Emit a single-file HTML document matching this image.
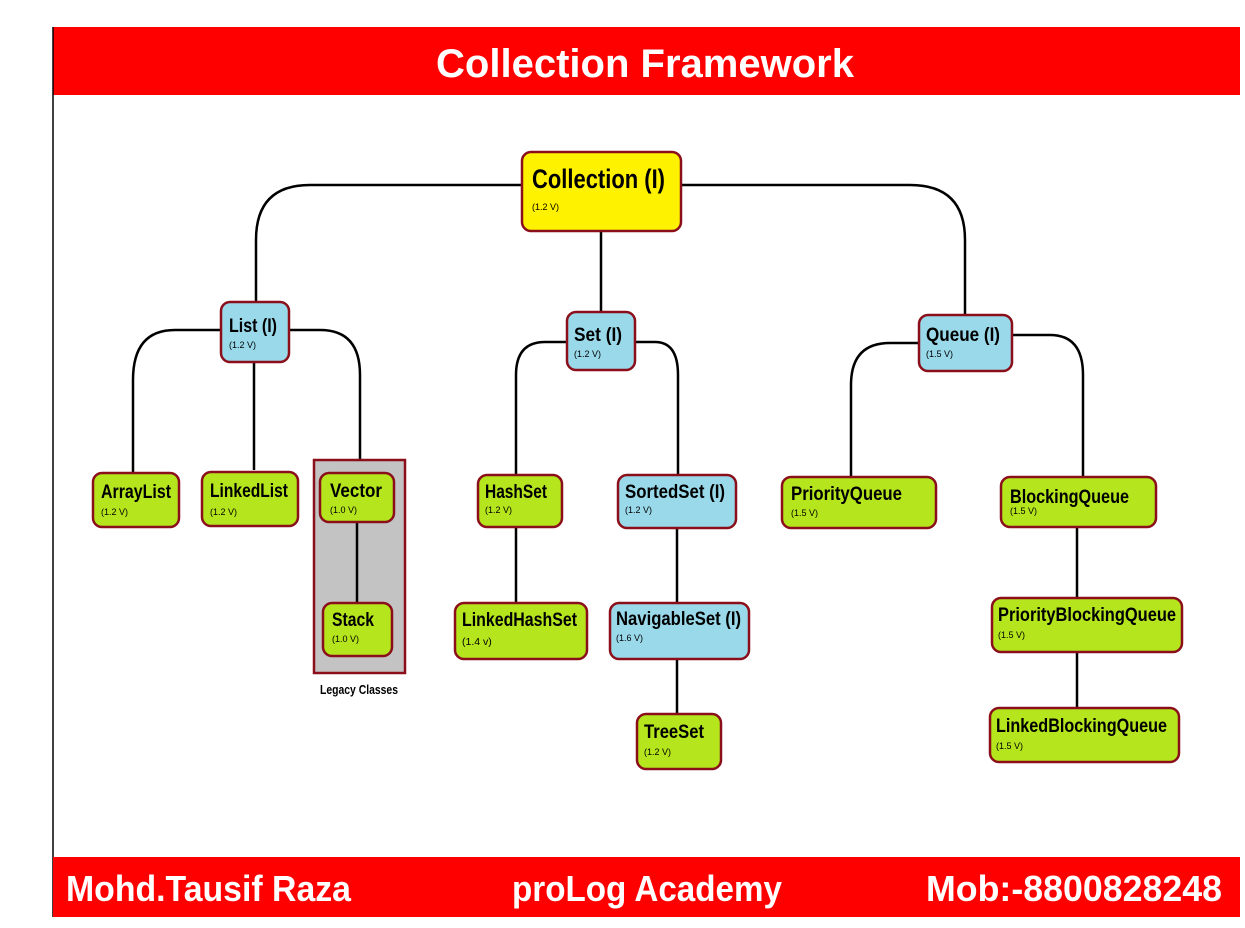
<!DOCTYPE html>
<html><head><meta charset="utf-8"><style>
html,body{margin:0;padding:0;background:#fff;width:1245px;height:928px;overflow:hidden}
svg{display:block}
text{font-family:"Liberation Sans",sans-serif}
</style></head><body>
<svg width="1245" height="928" viewBox="0 0 1245 928" xmlns="http://www.w3.org/2000/svg">
<rect x="53" y="27" width="1187" height="68" fill="#ff0000"/>
<line x1="53" y1="27" x2="53" y2="917" stroke="#000" stroke-width="1.5"/>
<text x="645" y="77" text-anchor="middle" fill="#fff" font-weight="bold" font-size="40" textLength="418" lengthAdjust="spacingAndGlyphs">Collection Framework</text>
<rect x="53" y="857" width="1187" height="60" fill="#ff0000"/>
<text x="66" y="901" fill="#fff" font-weight="bold" font-size="36" textLength="285" lengthAdjust="spacingAndGlyphs">Mohd.Tausif Raza</text>
<text x="512" y="901" fill="#fff" font-weight="bold" font-size="36" textLength="270" lengthAdjust="spacingAndGlyphs">proLog Academy</text>
<text x="926" y="901" fill="#fff" font-weight="bold" font-size="36" textLength="296" lengthAdjust="spacingAndGlyphs">Mob:-8800828248</text>

<g fill="none" stroke="#000" stroke-width="2.5">
<path d="M522 185 H310 Q256 185 256 240 V302"/>
<path d="M681 185 H910 Q965 185 965 240 V315"/>
<path d="M601 231 V312"/>
<path d="M221 330 H175 Q133 330 133 380 V473"/>
<path d="M254 362 V470"/>
<path d="M289 330 H320 Q360 330 360 375 V460"/>
<path d="M567 342 H545 Q516 342 516 375 V475"/>
<path d="M635 342 H655 Q678 342 678 375 V475"/>
<path d="M516 527 V603"/>
<path d="M677 528 V603"/>
<path d="M677 659 V714"/>
<path d="M919 343 H890 Q851 343 851 385 V477"/>
<path d="M1012 335 H1050 Q1083 335 1083 375 V477"/>
<path d="M1077 527 V598"/>
<path d="M1077 652 V708"/>
</g>
<rect x="314" y="460" width="91" height="213" fill="#c3c3c3" stroke="#8b0f1a" stroke-width="2.5"/>
<line x1="357" y1="522" x2="357" y2="603" stroke="#000" stroke-width="2.5"/>
<text x="359" y="694" text-anchor="middle" font-weight="bold" font-size="13" textLength="78" lengthAdjust="spacingAndGlyphs">Legacy Classes</text>

<g stroke="#8b0f1a" stroke-width="2.5">
<rect x="522" y="152" width="159" height="79" rx="9" fill="#fff200"/>
<rect x="221" y="302" width="68" height="60" rx="9" fill="#99d9ea"/>
<rect x="567" y="312" width="68" height="58" rx="9" fill="#99d9ea"/>
<rect x="919" y="315" width="93" height="56" rx="9" fill="#99d9ea"/>
<rect x="93" y="473" width="86" height="54" rx="9" fill="#b5e61d"/>
<rect x="202" y="472" width="96" height="54" rx="9" fill="#b5e61d"/>
<rect x="320" y="473" width="74" height="49" rx="9" fill="#b5e61d"/>
<rect x="323" y="603" width="69" height="53" rx="9" fill="#b5e61d"/>
<rect x="478" y="475" width="84" height="52" rx="9" fill="#b5e61d"/>
<rect x="618" y="475" width="118" height="53" rx="9" fill="#99d9ea"/>
<rect x="455" y="603" width="132" height="56" rx="9" fill="#b5e61d"/>
<rect x="610" y="603" width="139" height="56" rx="9" fill="#99d9ea"/>
<rect x="637" y="714" width="84" height="55" rx="9" fill="#b5e61d"/>
<rect x="782" y="477" width="154" height="51" rx="9" fill="#b5e61d"/>
<rect x="1001" y="477" width="155" height="50" rx="9" fill="#b5e61d"/>
<rect x="992" y="598" width="190" height="54" rx="9" fill="#b5e61d"/>
<rect x="990" y="708" width="189" height="54" rx="9" fill="#b5e61d"/>
</g>

<g font-weight="bold" fill="#000">
<text x="532" y="188" font-size="27" textLength="133" lengthAdjust="spacingAndGlyphs">Collection (I)</text>
<text x="229" y="332" font-size="19" textLength="48" lengthAdjust="spacingAndGlyphs">List (I)</text>
<text x="574" y="341" font-size="19" textLength="48" lengthAdjust="spacingAndGlyphs">Set (I)</text>
<text x="926" y="341" font-size="19" textLength="74" lengthAdjust="spacingAndGlyphs">Queue (I)</text>
<text x="101" y="498" font-size="19" textLength="70" lengthAdjust="spacingAndGlyphs">ArrayList</text>
<text x="210" y="497" font-size="19" textLength="78" lengthAdjust="spacingAndGlyphs">LinkedList</text>
<text x="330" y="497" font-size="19" textLength="52" lengthAdjust="spacingAndGlyphs">Vector</text>
<text x="332" y="626" font-size="19" textLength="42" lengthAdjust="spacingAndGlyphs">Stack</text>
<text x="485" y="498" font-size="19" textLength="62" lengthAdjust="spacingAndGlyphs">HashSet</text>
<text x="625" y="498" font-size="19" textLength="100" lengthAdjust="spacingAndGlyphs">SortedSet (I)</text>
<text x="462" y="626" font-size="19" textLength="115" lengthAdjust="spacingAndGlyphs">LinkedHashSet</text>
<text x="616" y="625" font-size="19" textLength="125" lengthAdjust="spacingAndGlyphs">NavigableSet (I)</text>
<text x="644" y="738" font-size="19" textLength="60" lengthAdjust="spacingAndGlyphs">TreeSet</text>
<text x="791" y="500" font-size="19" textLength="111" lengthAdjust="spacingAndGlyphs">PriorityQueue</text>
<text x="1010" y="503" font-size="19" textLength="119" lengthAdjust="spacingAndGlyphs">BlockingQueue</text>
<text x="998" y="621" font-size="19" textLength="178" lengthAdjust="spacingAndGlyphs">PriorityBlockingQueue</text>
<text x="996" y="732" font-size="19" textLength="171" lengthAdjust="spacingAndGlyphs">LinkedBlockingQueue</text>
</g>
<g font-size="9" fill="#000">
<text x="532" y="210">(1.2 V)</text>
<text x="229" y="348">(1.2 V)</text>
<text x="574" y="357">(1.2 V)</text>
<text x="926" y="357">(1.5 V)</text>
<text x="101" y="515">(1.2 V)</text>
<text x="210" y="515">(1.2 V)</text>
<text x="330" y="513">(1.0 V)</text>
<text x="332" y="642">(1.0 V)</text>
<text x="485" y="513">(1.2 V)</text>
<text x="625" y="513">(1.2 V)</text>
<text x="462" y="645" font-size="10.5">(1.4 v)</text>
<text x="616" y="641">(1.6 V)</text>
<text x="644" y="755">(1.2 V)</text>
<text x="791" y="516">(1.5 V)</text>
<text x="1010" y="514">(1.5 V)</text>
<text x="998" y="638">(1.5 V)</text>
<text x="996" y="749">(1.5 V)</text>
</g>
</svg>
</body></html>
